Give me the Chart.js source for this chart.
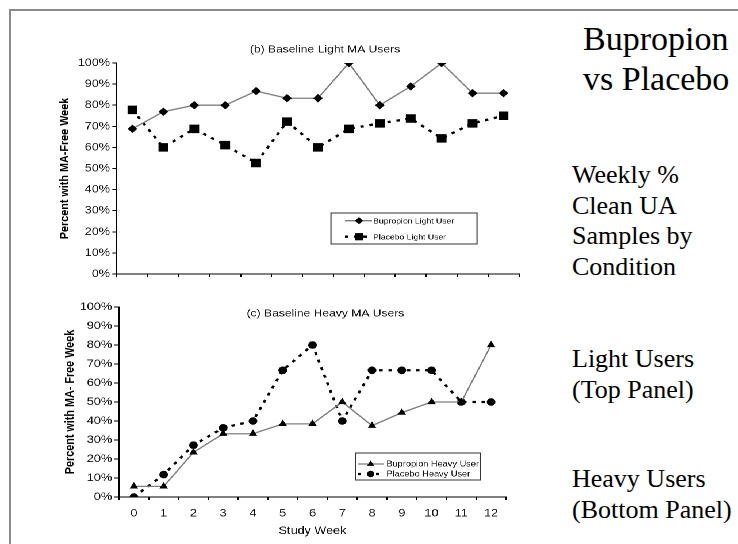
<!DOCTYPE html>
<html><head><meta charset="utf-8">
<script src="https://cdn.jsdelivr.net/npm/chart.js@4/dist/chart.umd.min.js"></script>
<style>
html,body{margin:0;padding:0;background:#fff;width:738px;height:544px;overflow:hidden;position:relative;font-family:'Liberation Sans',Arial,sans-serif}
#frame{position:absolute;left:9px;top:9px;width:760px;height:560px;border-top:2px solid #8a8a8a;border-left:2px solid #8a8a8a}
#wrap{position:absolute;left:0;top:0;width:470px;height:544px;transform:scaleX(1.15);transform-origin:0 0}
#wrap canvas{position:absolute;left:0}
.side{position:absolute;font-family:'Liberation Serif','Times New Roman',serif;color:#000;white-space:nowrap}
</style></head>
<body>
<div id="frame"></div>
<div id="wrap">
  <canvas id="topChart" width="470" height="290" style="top:0px"></canvas>
  <canvas id="botChart" width="470" height="254" style="top:290px"></canvas>
</div>
<div class="side" style="left:583px;top:18.5px;font-size:34px;line-height:40px">Bupropion<br>vs Placebo</div>
<div class="side" style="left:572px;top:160px;font-size:26px;line-height:30.5px">Weekly %<br>Clean UA<br>Samples by<br>Condition</div>
<div class="side" style="left:572px;top:344px;font-size:26px;line-height:30.5px">Light Users<br>(Top Panel)</div>
<div class="side" style="left:572px;top:464px;font-size:26px;line-height:30.5px">Heavy Users<br>(Bottom Panel)</div>
<script>
// ---- data ----
const weeks = ['0','1','2','3','4','5','6','7','8','9','10','11','12'];
const yTickValues = [0,10,20,30,40,50,60,70,80,90,100];
const bupropionLight = [68.8, 76.9, 80, 80, 86.7, 83.3, 83.3, 100, 80, 88.9, 100, 85.7, 85.7];
const placeboLight   = [77.8, 60, 68.8, 61.1, 52.6, 72.2, 60, 68.8, 71.4, 73.7, 64.3, 71.4, 75];
const bupropionHeavy = [5.6, 5.6, 23.5, 33.3, 33.3, 38.5, 38.5, 50, 37.5, 44.4, 50, 50, 80];
const placeboHeavy   = [0, 11.8, 27.3, 36.4, 40, 66.7, 80, 40, 66.7, 66.7, 66.7, 50, 50];

const FONT = "'Liberation Sans', Arial, sans-serif";

function marker(ctx, style, x, y, r) {
  ctx.beginPath();
  if (style === 'rectRot') {
    ctx.moveTo(x, y - r); ctx.lineTo(x + r, y); ctx.lineTo(x, y + r); ctx.lineTo(x - r, y); ctx.closePath();
  } else if (style === 'rect') {
    const s = r * Math.SQRT1_2; ctx.rect(x - s, y - s, 2 * s, 2 * s);
  } else if (style === 'triangle') {
    let a = 0;
    ctx.moveTo(x + Math.sin(a) * r, y - Math.cos(a) * r);
    a += 2 * Math.PI / 3; ctx.lineTo(x + Math.sin(a) * r, y - Math.cos(a) * r);
    a += 2 * Math.PI / 3; ctx.lineTo(x + Math.sin(a) * r, y - Math.cos(a) * r);
    ctx.closePath();
  } else {
    ctx.arc(x, y, r, 0, Math.PI * 2);
  }
  ctx.fill();
}

const deco = {
  id: 'deco',
  afterDatasetsDraw(chart, args, o) {
    const ctx = chart.ctx;
    ctx.save();
    // panel title
    ctx.fillStyle = '#111';
    ctx.font = o.titleSize + 'px ' + FONT;
    ctx.textAlign = 'center'; ctx.textBaseline = 'middle';
    ctx.fillText(o.title, o.titleX, o.titleY);
    // legend box
    const L = o.legend;
    ctx.fillStyle = '#fff';
    ctx.fillRect(L.x, L.y, L.w, L.h);
    ctx.strokeStyle = '#333'; ctx.lineWidth = 1;
    ctx.strokeRect(L.x, L.y, L.w, L.h);
    chart.data.datasets.forEach((ds, i) => {
      const ry = L.y + L.rows[i];
      ctx.save();
      ctx.strokeStyle = ds.borderColor; ctx.lineWidth = ds.borderWidth;
      ctx.setLineDash(ds.borderDash || []);
      ctx.beginPath(); ctx.moveTo(L.sx1, ry); ctx.lineTo(L.sx2, ry); ctx.stroke();
      ctx.restore();
      ctx.fillStyle = '#000';
      marker(ctx, ds.pointStyle, L.mx, ry, ds.pointRadius * 0.85);
      ctx.fillStyle = '#111';
      ctx.font = L.size + 'px ' + FONT;
      ctx.textAlign = 'left'; ctx.textBaseline = 'middle';
      ctx.fillText(ds.label, L.tx, ry + 0.5);
    });
    ctx.restore();
  }
};

function panel(id, c) {
  return new Chart(document.getElementById(id), {
    type: 'line',
    data: {
      labels: weeks,
      datasets: [
        { label: c.bupLabel, data: c.bup, borderColor: '#7f7f7f', borderWidth: 1.3,
          pointStyle: c.bupPoint, pointRadius: c.bupR, pointBackgroundColor: '#000',
          pointBorderColor: '#000', pointBorderWidth: 0, tension: 0, fill: false },
        { label: c.plaLabel, data: c.pla, borderColor: '#000', borderWidth: 2.3, borderDash: [3, 5],
          pointStyle: c.plaPoint, pointRadius: c.plaR, pointBackgroundColor: '#000',
          pointBorderColor: '#000', pointBorderWidth: 0, tension: 0, fill: false }
      ]
    },
    options: {
      responsive: false, animation: false, devicePixelRatio: 2, events: [],
      layout: { padding: c.pad },
      plugins: { legend: { display: false }, tooltip: { enabled: false }, deco: c.deco },
      scales: {
        x: {
          type: 'category', offset: true,
          grid: { display: true, drawOnChartArea: false, drawTicks: true, tickLength: 3, offset: true, color: '#000', lineWidth: 1 },
          border: { display: true, color: '#000', width: 1 },
          ticks: { display: c.showX, color: '#111', font: { family: FONT, size: 11 }, padding: 7, maxRotation: 0, autoSkip: false },
          title: { display: c.showX, text: 'Study Week', color: '#111', font: { family: FONT, size: 11 }, padding: 0 },
          afterFit: s => { s.height = c.xH; }
        },
        y: {
          min: 0, max: 100,
          afterBuildTicks: s => { s.ticks = yTickValues.map(v => ({ value: v })); },
          ticks: { color: '#111', font: { family: FONT, size: 11 }, padding: 2, callback: v => v + '%' },
          grid: { drawOnChartArea: false, drawTicks: true, tickLength: 4, color: '#000', lineWidth: 1 },
          border: { display: true, color: '#000', width: 1 },
          title: { display: true, text: c.yTitle, color: '#000', font: { family: FONT, size: 10.8, weight: 'bold' }, padding: 0 },
          afterFit: s => { s.width = c.yW; }
        }
      }
    },
    plugins: [deco]
  });
}

panel('topChart', {
  bupLabel: 'Bupropion Light User', plaLabel: 'Placebo Light User',
  bup: bupropionLight, pla: placeboLight,
  bupPoint: 'rectRot', bupR: 4.2, plaPoint: 'rect', plaR: 6,
  showX: false, xH: 8, yW: 51.8,
  yTitle: 'Percent with MA-Free Week',
  pad: { left: 49.9, right: 18.7, top: 63, bottom: 8 },
  deco: {
    title: '(b) Baseline Light MA Users', titleSize: 10.5, titleX: 282.6, titleY: 49.5,
    legend: { x: 287.8, y: 213, w: 127, h: 31, rows: [7.7, 23.7], sx1: 300, sx2: 323.5, mx: 312.2, tx: 324.5, size: 7.5 }
  }
});

panel('botChart', {
  bupLabel: 'Bupropion Heavy User', plaLabel: 'Placebo Heavy User',
  bup: bupropionHeavy, pla: placeboHeavy,
  bupPoint: 'triangle', bupR: 4.3, plaPoint: 'circle', plaR: 3.8,
  showX: true, xH: 40.6, yW: 49.2,
  yTitle: 'Percent with MA- Free Week',
  pad: { left: 54.3, right: 30, top: 17, bottom: 6.4 },
  deco: {
    title: '(c) Baseline Heavy MA Users', titleSize: 10.5, titleX: 283, titleY: 23.5,
    legend: { x: 309.5, y: 163, w: 108, h: 27, rows: [11, 21], sx1: 311, sx2: 334, mx: 322.3, tx: 336, size: 8 }
  }
});
</script>
</body></html>
